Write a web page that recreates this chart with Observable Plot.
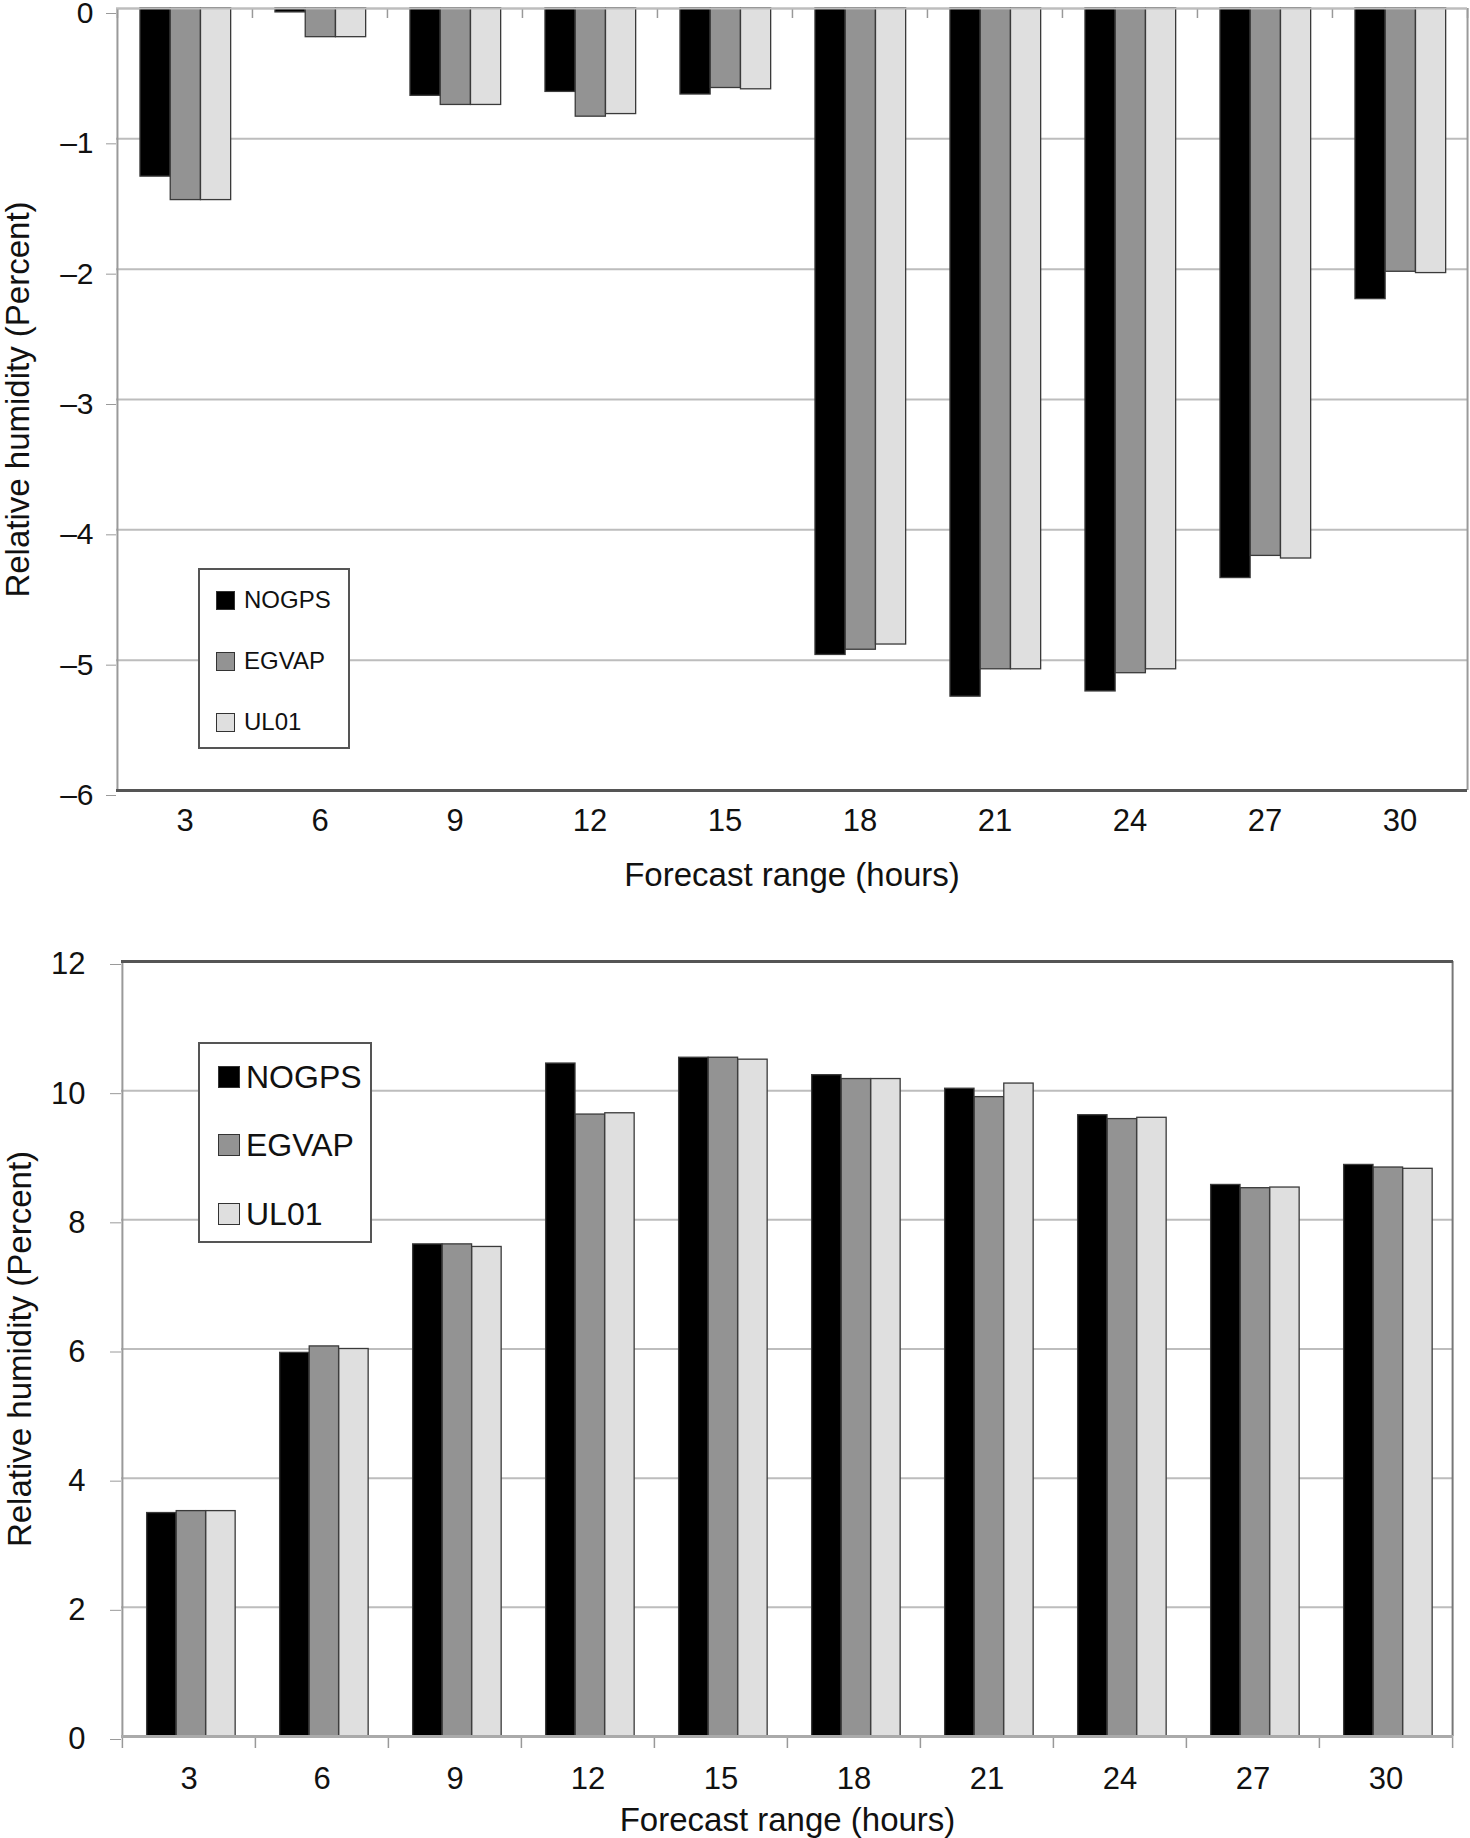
<!DOCTYPE html>
<html><head><meta charset="utf-8">
<script src="https://cdn.jsdelivr.net/npm/d3@7"></script>
<script src="https://cdn.jsdelivr.net/npm/@observablehq/plot@0.6"></script>
<style>
body{margin:0;background:#fff;font-family:"Liberation Sans",Arial,sans-serif;}
#page{position:relative;width:1470px;height:1838px;overflow:hidden;background:#fff;}
.panel{position:absolute;left:0;width:1470px;}
.legend{position:absolute;background:#fff;border:2px solid #555;box-sizing:border-box;}
.legend .item{position:absolute;left:0;display:flex;align-items:center;color:#111;white-space:nowrap;}
.legend .sw{box-sizing:border-box;border:1.5px solid #333;}
</style></head><body><div id="page"></div>
<script>
// ---- data ----
const hours = ["3","6","9","12","15","18","21","24","27","30"];
const seriesNames = ["NOGPS","EGVAP","UL01"];
const seriesColors = ["#000000","#939393","#dfdfdf"];

const topNOGPS = [-1.29,-0.03,-0.67,-0.64,-0.66,-4.96,-5.28,-5.24,-4.37,-2.23];
const topEGVAP = [-1.47,-0.22,-0.74,-0.83,-0.61,-4.92,-5.07,-5.10,-4.20,-2.02];
const topUL01  = [-1.47,-0.22,-0.74,-0.81,-0.62,-4.88,-5.07,-5.07,-4.22,-2.03];
const topYTicks = [-6,-5,-4,-3,-2,-1,0];

const botNOGPS = [3.46,5.94,7.62,10.42,10.51,10.24,10.03,9.62,8.54,8.85];
const botEGVAP = [3.49,6.04,7.62,9.63,10.51,10.18,9.90,9.56,8.49,8.81];
const botUL01  = [3.49,6.00,7.58,9.65,10.48,10.18,10.11,9.58,8.50,8.79];
const botYTicks = [0,2,4,6,8,10,12];

const xTitle = "Forecast range (hours)";
const yTitle = "Relative humidity (Percent)";

function rows(values){ return hours.map((h,i)=>({hour:h, value:values[i]})); }
const fmt = d => d < 0 ? "\u2013" + Math.abs(d) : String(d);

function makeChart(o){
  const band = (o.width - o.ml - o.mr) / hours.length;
  const bw = band * o.barFrac, off = band * o.offFrac;
  const yMin = o.yDomain[0], yMax = o.yDomain[1];
  const pxPerUnit = (o.height - o.mt - o.mb) / (yMax - yMin);
  const marks = [];
  // gridlines
  marks.push(Plot.ruleY(o.grid, {stroke:"#bdbdbd", strokeWidth:2}));
  // separator ticks on the zero line
  const len = o.sepLen / pxPerUnit;
  marks.push(Plot.ruleX(hours, {x:d=>d, dx:-band/2, y1:0, y2:-len, stroke:"#999", strokeWidth:1.5}));
  marks.push(Plot.ruleX([hours[hours.length-1]], {x:d=>d, dx:band/2, y1:0, y2:-len, stroke:"#999", strokeWidth:1.5}));
  // bars
  o.series.forEach((vals,i)=>{
    marks.push(Plot.barY(rows(vals), {
      x:"hour", y:"value", fill:seriesColors[i], stroke:"#3a3a3a", strokeWidth:1.3,
      insetLeft: off + i*bw, insetRight: band - off - (i+1)*bw
    }));
  });
  // frame
  marks.push(Plot.ruleX([hours[0]], {x:d=>d, dx:-band/2, stroke:"#9a9a9a", strokeWidth:2}));
  marks.push(Plot.ruleX([hours[hours.length-1]], {x:d=>d, dx:band/2, stroke:o.rightStroke, strokeWidth:2}));
  marks.push(Plot.ruleY([yMin], {stroke:o.bottomStroke, strokeWidth:o.bottomWidth}));
  marks.push(Plot.ruleY([yMax], {stroke:o.topStroke, strokeWidth:o.topWidth}));
  // axes
  marks.push(Plot.axisY(o.yTicks, {tickSize:o.yTickSize, tickPadding:o.yTickPad, fontSize:o.yFont, stroke:"#9a9a9a", fill:"#111", label:null, dy:o.yDy, tickFormat:fmt}));
  marks.push(Plot.axisX({tickSize:0, tickPadding:o.xTickPad, fontSize:o.xFont, fill:"#111", label:null}));
  // titles
  marks.push(Plot.text([xTitle], {frameAnchor:"bottom", lineAnchor:"middle", textAnchor:"middle", dy:o.xTitleDy, fontSize:o.titleFont, fill:"#111", text:d=>d}));
  marks.push(Plot.text([yTitle], {frameAnchor:"left", textAnchor:"middle", lineAnchor:"middle", dx:o.yTitleDx, rotate:-90, fontSize:o.titleFont, fill:"#111", text:d=>d}));
  return Plot.plot({
    width:o.width, height:o.height,
    marginTop:o.mt, marginBottom:o.mb, marginLeft:o.ml, marginRight:o.mr,
    x:{type:"band", domain:hours, padding:0, axis:null},
    y:{domain:o.yDomain, axis:null},
    style:{fontFamily:"'Liberation Sans', Arial, sans-serif", background:"white", overflow:"visible"},
    marks
  });
}

function makeLegend(cfg){
  const lg = document.createElement("div");
  lg.className = "legend";
  Object.assign(lg.style, {left:cfg.left+"px", top:cfg.top+"px", width:cfg.w+"px", height:cfg.h+"px"});
  seriesNames.forEach((name,i)=>{
    const it = document.createElement("div");
    it.className = "item";
    it.style.top = (cfg.rows[i] - cfg.font) + "px";
    it.style.height = (2*cfg.font) + "px";
    it.style.paddingLeft = cfg.swx + "px";
    it.style.fontSize = cfg.font + "px";
    const sw = document.createElement("span");
    sw.className = "sw";
    Object.assign(sw.style, {display:"inline-block", width:cfg.sw+"px", height:cfg.sw+"px", background:seriesColors[i], marginRight:cfg.gap+"px"});
    it.appendChild(sw);
    it.appendChild(document.createTextNode(name));
    lg.appendChild(it);
  });
  return lg;
}

const page = document.getElementById("page");

// top panel
const p1 = document.createElement("div");
p1.className = "panel"; p1.style.top = "0px";
p1.appendChild(makeChart({
  width:1470, height:900, mt:8, mb:110, ml:116, mr:3,
  yDomain:[-6,0], grid:[-5,-4,-3,-2,-1,0], yTicks:topYTicks,
  series:[topNOGPS, topEGVAP, topUL01],
  barFrac:0.224, offFrac:0.17, sepLen:10,
  rightStroke:"#9a9a9a", bottomStroke:"#555", bottomWidth:3, topStroke:"#bdbdbd", topWidth:2,
  yTickSize:10, yTickPad:13, yFont:30, yDy:5,
  xTickPad:18, xFont:31, titleFont:33, xTitleDy:85, yTitleDx:-98
}));
p1.appendChild(makeLegend({left:198, top:568, w:152, h:181, rows:[30,91,152], font:24, sw:19, swx:16, gap:9}));
page.appendChild(p1);

// bottom panel
const p2 = document.createElement("div");
p2.className = "panel"; p2.style.top = "900px";
p2.appendChild(makeChart({
  width:1470, height:938, mt:61, mb:102, ml:121, mr:17,
  yDomain:[0,12], grid:[0,2,4,6,8,10], yTicks:botYTicks,
  series:[botNOGPS, botEGVAP, botUL01],
  barFrac:0.222, offFrac:0.185, sepLen:12,
  rightStroke:"#777", bottomStroke:"#aaaaaa", bottomWidth:3, topStroke:"#555", topWidth:3,
  yTickSize:11, yTickPad:25, yFont:31, yDy:3,
  xTickPad:30, xFont:31, titleFont:33, xTitleDy:84, yTitleDx:-101
}));
p2.appendChild(makeLegend({left:198, top:142, w:174, h:201, rows:[33,101,170], font:32, sw:22, swx:18, gap:6}));
page.appendChild(p2);
</script></body></html>
